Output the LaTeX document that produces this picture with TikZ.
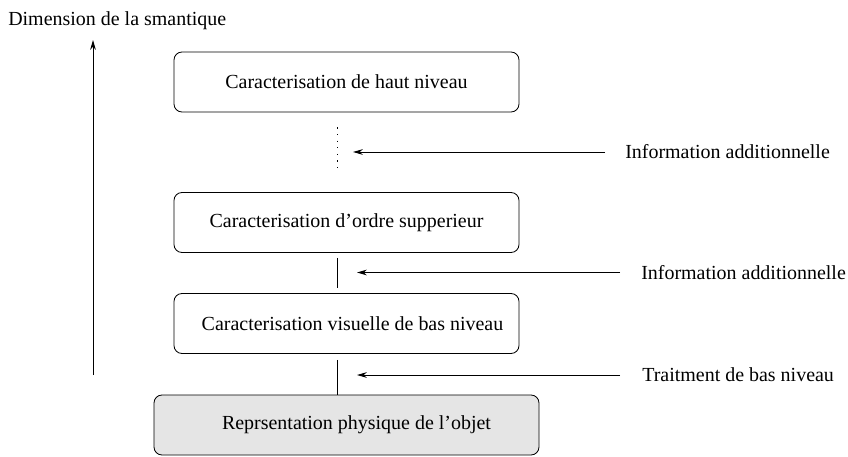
\documentclass[tikz,border=0pt]{standalone}
\usepackage{fontspec}
\setmainfont{Liberation Serif}
\usepackage{xcolor}
\usepackage{tikz}
\usetikzlibrary{arrows.meta,positioning}
\definecolor{levelgray}{HTML}{E5E5E5}
\begin{document}
\begin{tikzpicture}[font=\fontsize{14.2}{17}\selectfont,
  levelbox/.style={draw,rounded corners=0.2cm,line width=0.6pt,minimum width=8.625cm,minimum height=1.5cm},
  infolab/.style={anchor=west,inner sep=0pt},
  flow/.style={-{Stealth[length=7pt,width=4pt]},line width=0.6pt},
  link/.style={line width=0.6pt}]
  \useasboundingbox (0,0) rectangle (21.2,11.4);
  \node[anchor=base west,inner sep=0pt] (dimlab) at (0.2,10.75) {Dimension de la smantique};
  \coordinate (dimbot) at (2.325,2.025);
  \coordinate (dimtop) at (2.325,10.4);
  \draw[flow] (dimbot)--(dimtop);
  % the four levels
  \node[levelbox] (haut) at (8.6625,9.35) {Caracterisation de haut niveau};
  \node[levelbox] (ordre) at (8.6625,5.8375) {Caracterisation d'ordre supperieur};
  \node[levelbox] (visu) at (8.6625,3.3125) {\hspace*{0.3cm}Caracterisation visuelle de bas niveau};
  \node[levelbox,fill=levelgray,minimum width=9.625cm] (phys) at (8.6625,0.775) {\hspace*{0.5cm}Reprsentation physique de l'objet};
  \coordinate (spine) at (8.425,0);
  \draw[link,dash pattern=on 0.8pt off 3.9pt,shorten <=0.375cm,shorten >=0.525cm] (haut.south -| spine)--(ordre.north -| spine);
  \draw[link,shorten <=0.125cm,shorten >=0.125cm] (ordre.south -| spine)--(visu.north -| spine);
  \draw[link,shorten <=0.15cm] (visu.south -| spine)--(phys.north -| spine);
  % inputs on the right
  \node[infolab] (info1) at (15.625,7.6) {Information additionnelle};
  \node[infolab] (info2) at (16.025,4.5875) {Information additionnelle};
  \node[infolab] (trait) at (16.05,2.025) {Traitment de bas niveau};
  \coordinate (tip1) at (8.825,7.6);
  \coordinate (tip2) at (8.925,4.5875);
  \coordinate (tip3) at (8.925,2.025);
  \draw[flow,shorten <=0.5cm] (info1.west)--(tip1);
  \draw[flow,shorten <=0.525cm] (info2.west)--(tip2);
  \draw[flow,shorten <=0.55cm] (trait.west)--(tip3);
\end{tikzpicture}
\end{document}
